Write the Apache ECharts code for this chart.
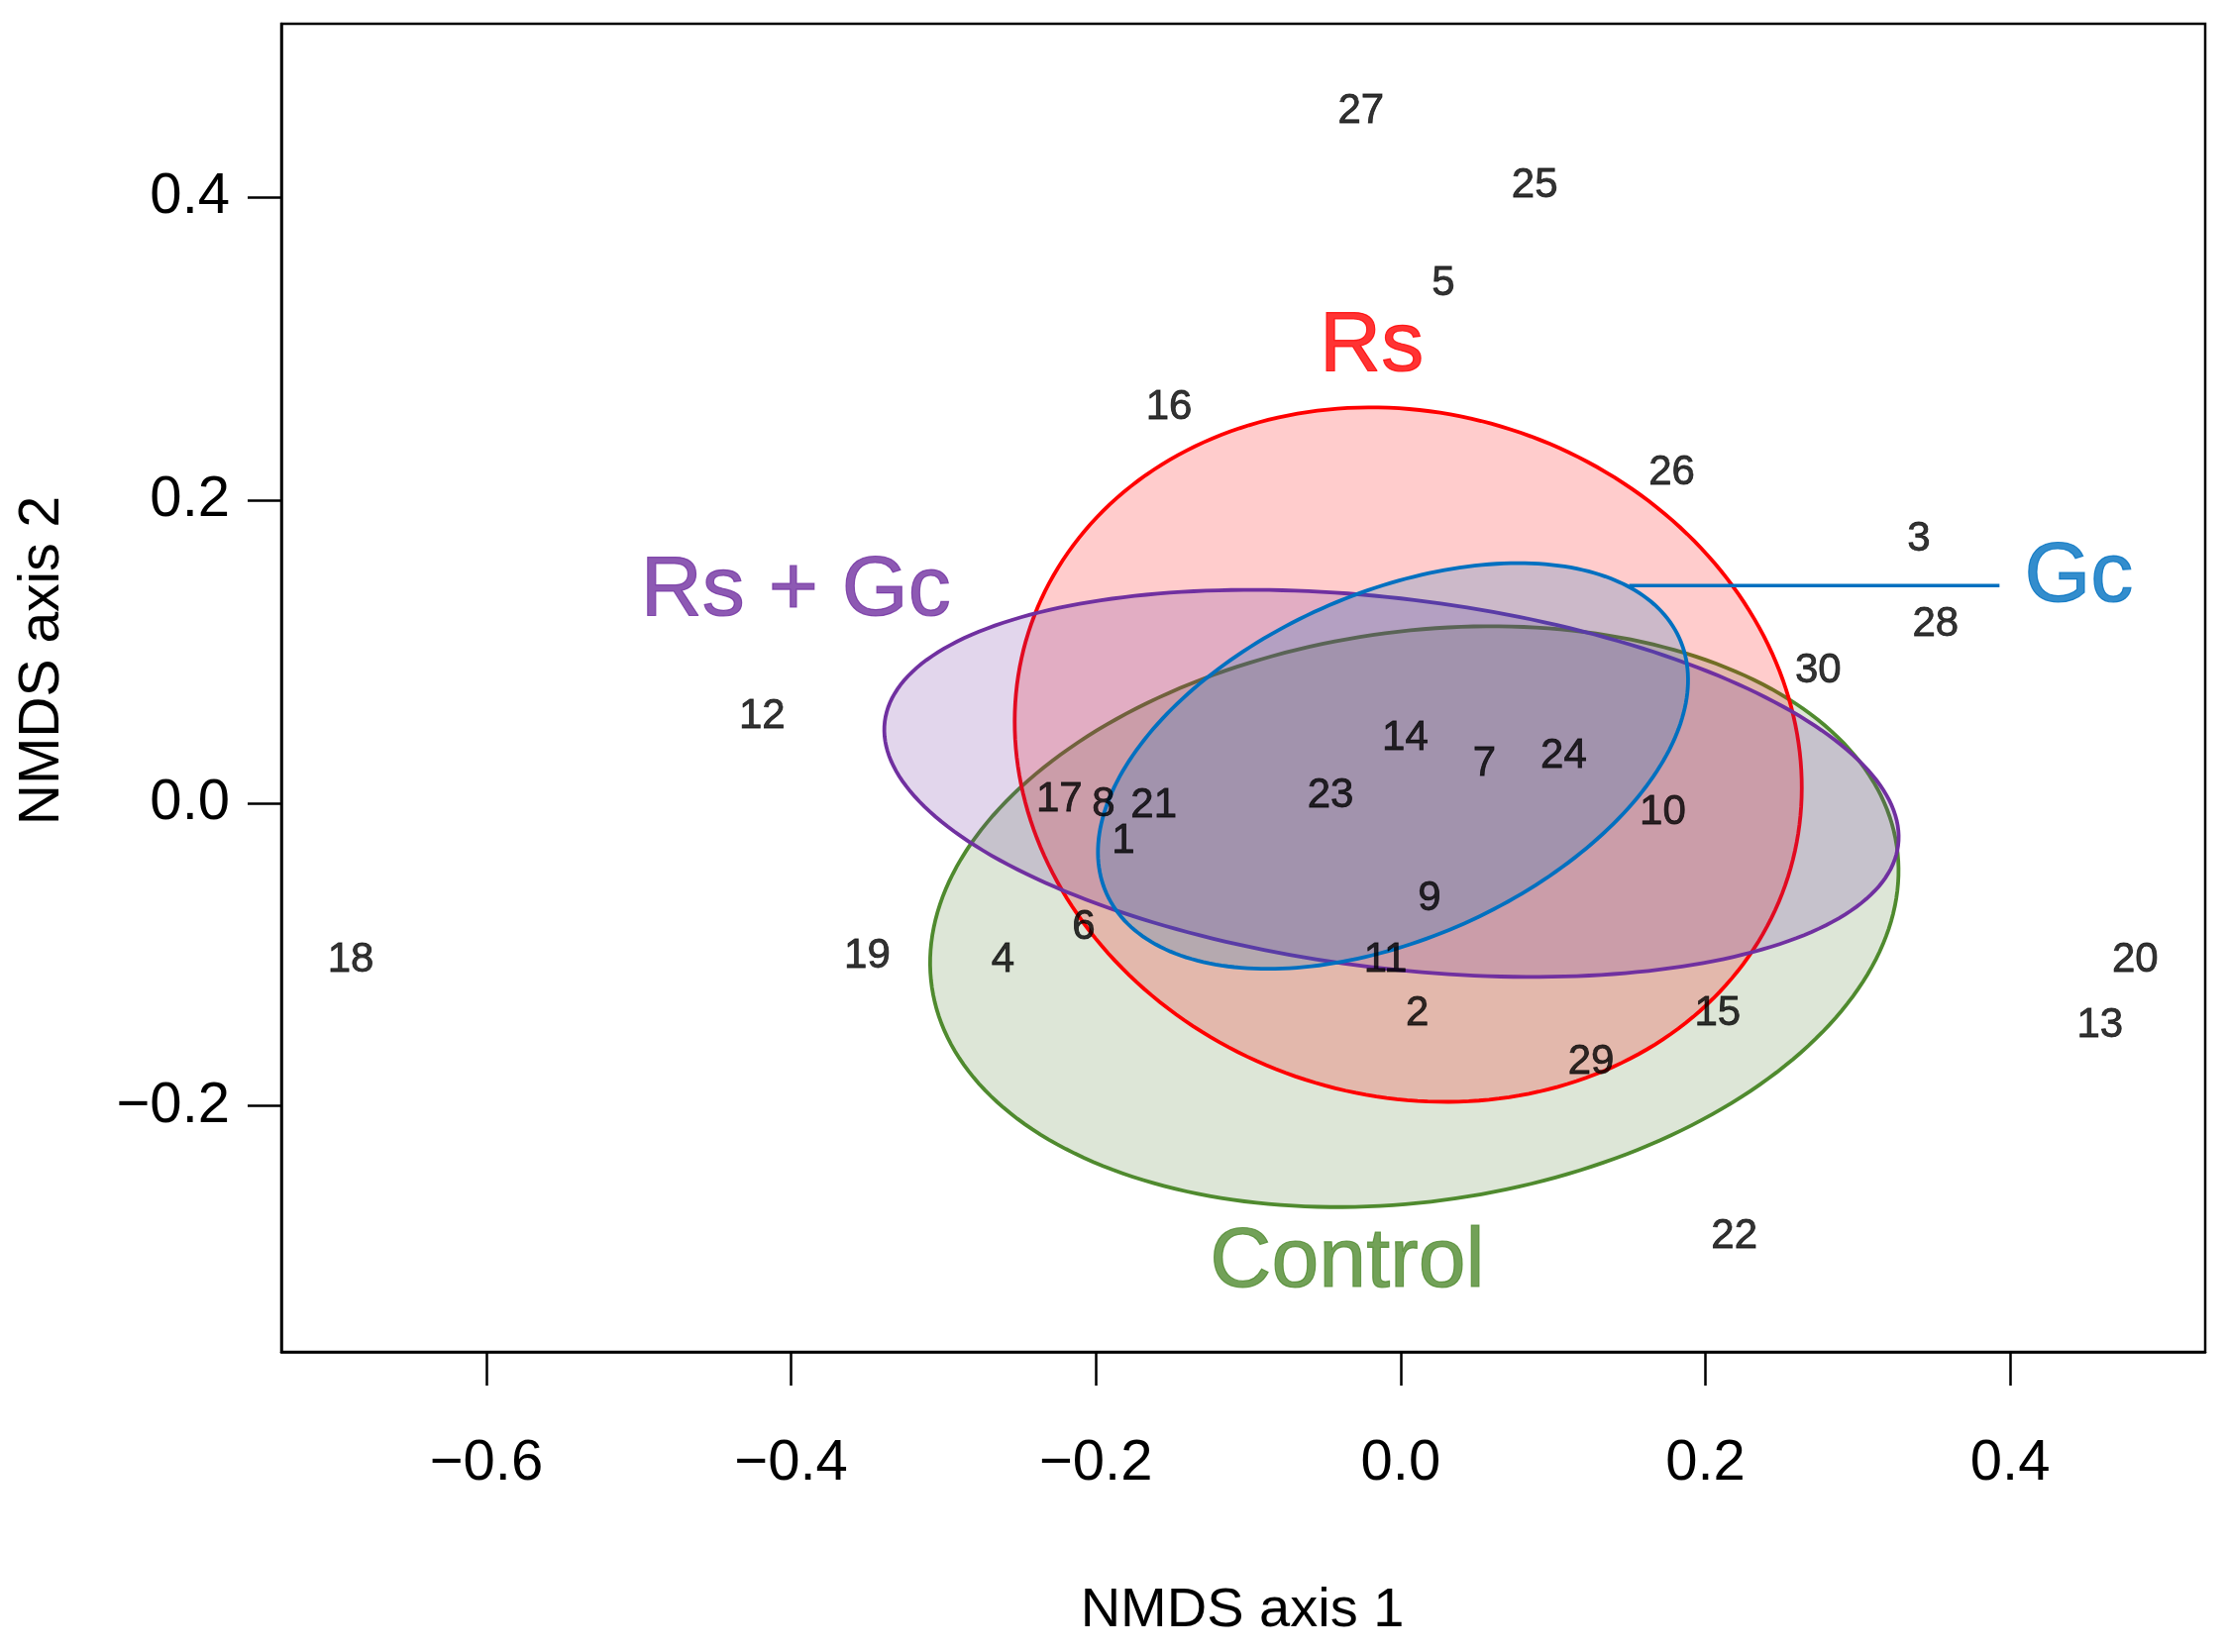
<!DOCTYPE html>
<html>
<head>
<meta charset="utf-8">
<script src="https://cdn.jsdelivr.net/npm/echarts@6/dist/echarts.min.js"></script>
<style>
html,body{margin:0;padding:0;background:#fff;}
#chart{width:2248px;height:1668px;}
</style>
</head>
<body>
<div id="chart"></div>
<script>
// ---- data ----
const sampleIds = ['1','2','3','4','5','6','7','8','9','10','11','12','13','14','15','16','17','18','19','20','21','22','23','24','25','26','27','28','29','30'];
const nmds1 = [-0.182, 0.011, 0.340, -0.261, 0.028, -0.208, 0.055, -0.195, 0.019, 0.172, -0.010, -0.419, 0.459, 0.003, 0.208, -0.152, -0.224, -0.689, -0.350, 0.482, -0.162, 0.219, -0.046, 0.107, 0.088, 0.178, -0.026, 0.351, 0.125, 0.274];
const nmds2 = [-0.025, -0.139, 0.174, -0.104, 0.343, -0.082, 0.026, -0.001, -0.063, -0.006, -0.104, 0.057, -0.147, 0.043, -0.139, 0.261, 0.002, -0.104, -0.101, -0.104, -0.002, -0.286, 0.005, 0.031, 0.408, 0.218, 0.457, 0.118, -0.171, 0.087];

const xTickValues = [-0.6, -0.4, -0.2, 0.0, 0.2, 0.4];
const yTickValues = [-0.2, 0.0, 0.2, 0.4];

// group ellipses (centre, semi-axes, rotation in degrees)
const groupNames   = ['Control', 'Rs', 'Rs + Gc', 'Gc'];
const ellipseCx    = [0.009, 0.005, -0.006, -0.005];
const ellipseCy    = [-0.075, 0.032, 0.013, 0.0245];
const ellipseA     = [0.320, 0.262, 0.335, 0.206];
const ellipseB     = [0.188, 0.225, 0.122, 0.114];
const ellipseAngle = [8.4, -19.2, -7.0, 24.2];

// group label anchors
const groupLabelX = [-0.035, -0.019, -0.397, 0.445];
const groupLabelY = [-0.304, 0.301, 0.140, 0.149];

// Gc leader line
const gcLeaderX = [0.150, 0.393];
const gcLeaderY = [0.1436, 0.1436];

// ---- styles ----
const groupColors = ['#4F8A2E', '#FF0000', '#7030A0', '#0070C0'];
const groupFills  = ['rgba(83,129,53,0.2)', 'rgba(255,0,0,0.2)', 'rgba(112,48,160,0.2)', 'rgba(0,112,192,0.2)'];
const FONT = 'Liberation Sans, Arial, Helvetica, sans-serif';

function fmt(v) {
  const s = Math.abs(v).toFixed(1);
  return (v < -1e-9 ? '\u2212' : '') + s;
}

const chart = echarts.init(document.getElementById('chart'), null, {renderer: 'canvas'});

const ellipseSeries = groupNames.map((g, i) => ({
  type: 'custom',
  name: g,
  coordinateSystem: 'cartesian2d',
  z: 2 + i,
  silent: true,
  data: [[ellipseCx[i], ellipseCy[i], ellipseA[i], ellipseB[i], ellipseAngle[i]]],
  renderItem: function (params, api) {
    const cx = api.value(0), cy = api.value(1), a = api.value(2), b = api.value(3);
    const th = api.value(4) * Math.PI / 180;
    const pts = [];
    const N = 240;
    for (let k = 0; k < N; k++) {
      const t = 2 * Math.PI * k / N;
      const ex = a * Math.cos(t), ey = b * Math.sin(t);
      const x = cx + ex * Math.cos(th) - ey * Math.sin(th);
      const y = cy + ex * Math.sin(th) + ey * Math.cos(th);
      pts.push(api.coord([x, y]));
    }
    return {
      type: 'polygon',
      shape: {points: pts},
      style: {fill: groupFills[i], stroke: groupColors[i], lineWidth: 3.8}
    };
  }
}));

const option = {
  animation: false,
  backgroundColor: '#fff',
  grid: {left: 284, right: 22, top: 24, bottom: 303, show: true, borderColor: '#000', borderWidth: 2.5, backgroundColor: 'transparent'},
  xAxis: {
    type: 'value',
    min: -0.7345, max: 0.528,
    axisLine: {show: true, onZero: false, lineStyle: {color: '#000', width: 2.5}},
    axisTick: {show: true, length: 34, lineStyle: {color: '#000', width: 2.5}, customValues: xTickValues},
    axisLabel: {customValues: xTickValues, formatter: fmt, fontSize: 58, color: '#000', fontFamily: FONT, margin: 84},
    splitLine: {show: false}
  },
  yAxis: {
    type: 'value',
    min: -0.3624, max: 0.5146,
    axisLine: {show: true, onZero: false, lineStyle: {color: '#000', width: 2.5}},
    axisTick: {show: true, length: 34, lineStyle: {color: '#000', width: 2.5}, customValues: yTickValues},
    axisLabel: {customValues: yTickValues, formatter: fmt, fontSize: 58, color: '#000', fontFamily: FONT, margin: 52},
    splitLine: {show: false}
  },
  graphic: [
    {type: 'text', x: 1254, y: 1627, style: {text: 'NMDS axis 1', fontSize: 56, fontFamily: FONT, fill: '#000', textAlign: 'center', textVerticalAlign: 'middle'}},
    {type: 'text', x: 43, y: 667, rotation: Math.PI / 2, style: {text: 'NMDS axis 2', fontSize: 57, fontFamily: FONT, fill: '#000', textAlign: 'center', textVerticalAlign: 'middle'}}
  ],
  series: ellipseSeries.concat([
    {
      type: 'line',
      name: 'Gc leader',
      z: 7,
      silent: true,
      symbol: 'none',
      data: gcLeaderX.map((x, i) => [x, gcLeaderY[i]]),
      lineStyle: {color: '#0070C0', width: 3.5}
    },
    {
      type: 'scatter',
      name: 'samples',
      z: 10,
      silent: true,
      symbolSize: 1,
      itemStyle: {color: 'rgba(0,0,0,0)'},
      data: sampleIds.map((id, i) => [nmds1[i], nmds2[i], id]),
      label: {
        show: true, position: 'inside',
        formatter: p => p.value[2],
        fontSize: 42, fontFamily: FONT, color: '#000',
        textBorderWidth: 0.8, textBorderColor: '#000'
      }
    },
    {
      type: 'scatter',
      name: 'groups',
      z: 11,
      silent: true,
      symbolSize: 1,
      itemStyle: {color: 'rgba(0,0,0,0)'},
      data: groupNames.map((g, i) => ({
        value: [groupLabelX[i], groupLabelY[i], g],
        label: {color: groupColors[i], textBorderColor: groupColors[i]}
      })),
      label: {
        show: true, position: 'inside',
        formatter: p => p.value[2],
        fontSize: 86, fontFamily: FONT,
        textBorderWidth: 1.2
      }
    }
  ])
};
chart.setOption(option);
</script>
</body>
</html>
